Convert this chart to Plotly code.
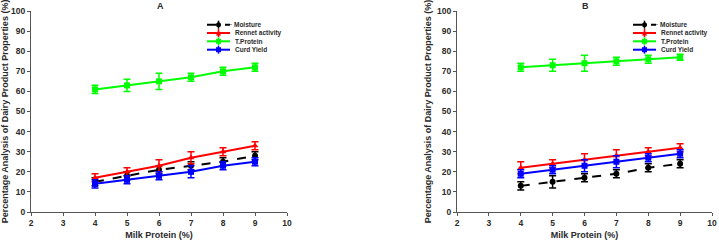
import plotly.graph_objects as go

x_protein = [4, 5, 6, 7, 8, 9]

# Panel A
a_moisture = [15, 18, 21, 23, 25, 28]
a_moisture_err = [2, 2, 2, 2, 2, 2]
a_rennet = [17, 20, 23, 27, 30, 33]
a_rennet_err = [2, 2, 3, 3, 2, 2]
a_tprotein = [61, 63, 65, 67, 70, 72]
a_tprotein_err = [2, 3, 4, 2, 2, 2]
a_curd = [14, 16, 18, 20, 23, 25]
a_curd_err = [2, 2, 2, 3, 2, 2]

# Panel B
b_moisture = [13, 15, 17, 19, 22, 24]
b_moisture_err = [2, 3, 2, 2, 2, 2]
b_rennet = [22, 24, 26, 28, 30, 32]
b_rennet_err = [3, 2, 3, 3, 2, 2]
b_tprotein = [72, 73, 74, 75, 76, 77]
b_tprotein_err = [2, 3, 4, 2, 2, 1.5]
b_curd = [19, 21, 23, 25, 27, 29]
b_curd_err = [2, 2, 3, 3, 2, 2]

series_names = ["Moisture", "Rennet activity", "T.Protein", "Curd Yield"]
colors = ["#000000", "#ff0000", "#00ff00", "#0000ff"]
dashes = ["dash", "solid", "solid", "solid"]
symbols = ["circle", "triangle-up", "square", "square"]

W, H = 719, 241
TXT = "#2a2a2a"
AX = "#555555"
FONT = "Liberation Sans"

fig = go.Figure()

panels = [
    ("x", "y", [(a_moisture, a_moisture_err), (a_rennet, a_rennet_err),
                (a_tprotein, a_tprotein_err), (a_curd, a_curd_err)]),
    ("x2", "y2", [(b_moisture, b_moisture_err), (b_rennet, b_rennet_err),
                  (b_tprotein, b_tprotein_err), (b_curd, b_curd_err)]),
]

for xa, ya, data in panels:
    for i, (vals, errs) in enumerate(data):
        fig.add_trace(go.Scatter(
            x=x_protein, y=vals, xaxis=xa, yaxis=ya, mode="lines+markers",
            name=series_names[i], showlegend=False,
            line=dict(color=colors[i], width=2, dash=dashes[i]),
            marker=dict(color=colors[i], symbol=symbols[i], size=6),
            error_y=dict(type="data", array=errs, visible=True,
                         color=colors[i], thickness=1.5, width=3.5),
        ))

def px_x(p):
    return p / W

def px_y(p):
    return 1 - p / H

ydom = [px_y(212), px_y(11)]
axis_common = dict(showline=True, linecolor=AX, linewidth=1, ticks="outside",
                   ticklen=3, tickcolor=AX, showgrid=False, zeroline=False,
                   automargin=False,
                   tickfont=dict(family=FONT, size=8.5, color=TXT))
xtitle = dict(text="<b>Milk Protein (%)</b>", font=dict(family=FONT, size=9, color=TXT), standoff=4)
ytitle = dict(text="<b>Percentage Analysis of Dairy Product Properties (%)</b>",
              font=dict(family=FONT, size=9, color=TXT), standoff=3)

fig.update_layout(
    width=W, height=H, margin=dict(l=0, r=0, t=0, b=0),
    plot_bgcolor="white", paper_bgcolor="white", showlegend=False,
    xaxis=dict(domain=[px_x(31), px_x(287)], range=[2, 10], dtick=1, anchor="y",
               title=xtitle, tickprefix="<b>", ticksuffix="</b>", **axis_common),
    yaxis=dict(domain=ydom, range=[0, 100], dtick=10, anchor="x",
               title=ytitle, tickprefix="<b>", ticksuffix="</b>", **axis_common),
    xaxis2=dict(domain=[px_x(457), px_x(712)], range=[2, 10], dtick=1, anchor="y2",
                title=xtitle, tickprefix="<b>", ticksuffix="</b>", **axis_common),
    yaxis2=dict(domain=ydom, range=[0, 100], dtick=10, anchor="x2",
                title=ytitle, tickprefix="<b>", ticksuffix="</b>", **axis_common),
)

# Panel titles
for label, cx in [("A", 160), ("B", 585)]:
    fig.add_annotation(x=px_x(cx), y=1.0, xref="paper", yref="paper",
                       xanchor="center", yanchor="top", borderpad=0,
                       text=f"<b>{label}</b>", showarrow=False,
                       font=dict(family=FONT, size=9, color=TXT))

# Custom compact legends
legend_rows = [24.7, 33, 41.3, 49.7]
for lx0 in [207, 633]:
    for i, name in enumerate(series_names):
        yy = px_y(legend_rows[i])
        fig.add_shape(type="line", xref="paper", yref="paper",
                      x0=px_x(lx0), x1=px_x(lx0 + 23), y0=yy, y1=yy,
                      line=dict(color=colors[i], width=2, dash=dashes[i]))
        mx = lx0 + 11.5
        r = 2.5
        if symbols[i] == "triangle-up":
            path = (f"M {px_x(mx - r)} {px_y(legend_rows[i] + r)} L {px_x(mx + r)} {px_y(legend_rows[i] + r)} "
                    f"L {px_x(mx)} {px_y(legend_rows[i] - r - 0.5)} Z")
            fig.add_shape(type="path", xref="paper", yref="paper", path=path,
                          fillcolor=colors[i], line=dict(color=colors[i], width=0))
        else:
            fig.add_shape(type="circle" if symbols[i] == "circle" else "rect",
                          xref="paper", yref="paper",
                          x0=px_x(mx - r), x1=px_x(mx + r),
                          y0=px_y(legend_rows[i] + r), y1=px_y(legend_rows[i] - r),
                          fillcolor=colors[i], line=dict(color=colors[i], width=0))
        fig.add_shape(type="line", xref="paper", yref="paper",
                      x0=px_x(mx), x1=px_x(mx), y0=px_y(legend_rows[i] - 4), y1=px_y(legend_rows[i] + 4),
                      line=dict(color=colors[i], width=1.5))
        label = ("· " if i == 0 else "") + name
        fig.add_annotation(x=px_x(lx0 + 26 - (5 if i == 0 else 0)), y=yy, xref="paper", yref="paper",
                           xanchor="left", yanchor="middle", showarrow=False,
                           text=f"<b>{label}</b>", font=dict(family=FONT, size=6.5, color=TXT))

fig.write_html("out.html", config={"displayModeBar": False},
               post_script="document.body.style.margin='0px';document.body.style.overflow='hidden';")
